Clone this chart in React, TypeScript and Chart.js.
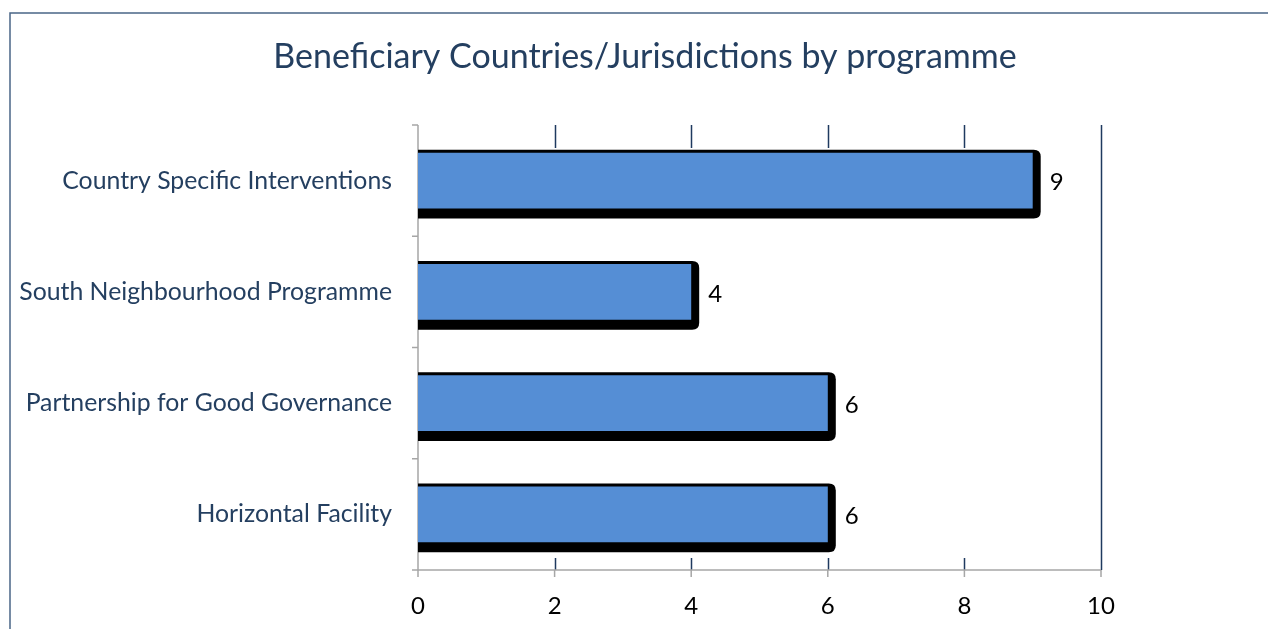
import React, { useEffect, useRef } from "react";
import { Chart, registerables } from "chart.js";

Chart.register(...registerables);

const titleText = "Beneficiary Countries/Jurisdictions by programme";
const categories = [
  "Country Specific Interventions",
  "South Neighbourhood Programme",
  "Partnership for Good Governance",
  "Horizontal Facility",
];
const values = [9, 4, 6, 6];
const xTicks = [0, 2, 4, 6, 8, 10];

const FONT = "Lato, 'Open Sans', sans-serif";
const NAVY = "#1f3a5f";
const TEXT_BLUE = "#243f60";
const AXIS_GRAY = "#a6a6a6";
const BAR_BLUE = "#558ed5";

const decorPlugin = {
  id: "decor",
  beforeDraw(chart: any) {
    const { ctx } = chart;
    ctx.save();
    ctx.fillStyle = "#ffffff";
    ctx.fillRect(0, 0, chart.width, chart.height);
    ctx.strokeStyle = "#4a6687";
    ctx.lineWidth = 1.5;
    ctx.strokeRect(10, 13, chart.width + 40, chart.height + 40);
    ctx.fillStyle = TEXT_BLUE;
    ctx.font = `34px ${FONT}`;
    ctx.textAlign = "center";
    ctx.textBaseline = "alphabetic";
    ctx.fillText(titleText, 645, 68);
    ctx.restore();
  },
  beforeDatasetsDraw(chart: any) {
    const { ctx, chartArea } = chart;
    const xs = chart.scales.x;
    const { top, bottom, left, right } = chartArea;
    ctx.save();
    ctx.strokeStyle = NAVY;
    ctx.lineWidth = 1.5;
    xTicks.forEach((v) => {
      if (v === 0) return;
      const px = Math.round(xs.getPixelForValue(v)) + 0.5;
      ctx.beginPath();
      if (v === xTicks[xTicks.length - 1]) {
        ctx.moveTo(px, top);
        ctx.lineTo(px, bottom);
      } else {
        ctx.moveTo(px, top);
        ctx.lineTo(px, top + 23);
        ctx.moveTo(px, bottom - 12);
        ctx.lineTo(px, bottom);
      }
      ctx.stroke();
    });
    ctx.strokeStyle = AXIS_GRAY;
    ctx.lineWidth = 1.5;
    ctx.beginPath();
    ctx.moveTo(left, top);
    ctx.lineTo(left, bottom + 7);
    ctx.moveTo(left - 6, bottom);
    ctx.lineTo(right, bottom);
    const n = categories.length;
    for (let i = 0; i <= n; i++) {
      const py = top + ((bottom - top) * i) / n;
      ctx.moveTo(left - 6, py);
      ctx.lineTo(left, py);
    }
    xTicks.forEach((v) => {
      const px = xs.getPixelForValue(v);
      ctx.moveTo(px, bottom);
      ctx.lineTo(px, bottom + 7);
    });
    ctx.stroke();
    const meta = chart.getDatasetMeta(0);
    ctx.fillStyle = "#000000";
    meta.data.forEach((el: any) => {
      const h = el.height;
      const x0 = el.base;
      const x1 = el.x + 8;
      const y0 = el.y - h / 2 - 3;
      const y1 = el.y + h / 2 + 10;
      const r = 7;
      ctx.beginPath();
      ctx.moveTo(x0, y0);
      ctx.lineTo(x1 - r, y0);
      ctx.quadraticCurveTo(x1, y0, x1, y0 + r);
      ctx.lineTo(x1, y1 - r);
      ctx.quadraticCurveTo(x1, y1, x1 - r, y1);
      ctx.lineTo(x0, y1);
      ctx.closePath();
      ctx.fill();
    });
    ctx.restore();
  },
  afterDatasetsDraw(chart: any) {
    const { ctx } = chart;
    const meta = chart.getDatasetMeta(0);
    ctx.save();
    ctx.fillStyle = "#000000";
    ctx.font = `24px ${FONT}`;
    ctx.textAlign = "left";
    ctx.textBaseline = "middle";
    meta.data.forEach((el: any, i: number) => {
      ctx.fillText(String(values[i]), el.x + 17, el.y + 2);
    });
    ctx.restore();
  },
};

export default function App() {
  const ref = useRef<HTMLCanvasElement | null>(null);
  useEffect(() => {
    if (!ref.current) return;
    const chart = new Chart(ref.current, {
      type: "bar",
      data: {
        labels: categories,
        datasets: [
          {
            data: values,
            backgroundColor: BAR_BLUE,
            borderWidth: 0,
            barPercentage: 0.5,
            categoryPercentage: 1,
          },
        ],
      },
      options: {
        indexAxis: "y",
        animation: false,
        responsive: false,
        layout: { padding: { left: 10, right: 167, top: 125, bottom: 0 } },
        plugins: {
          legend: { display: false },
          tooltip: { enabled: false },
          title: { display: false },
        },
        scales: {
          x: {
            type: "linear",
            min: 0,
            max: 10,
            grid: { display: false },
            border: { display: false },
            ticks: {
              stepSize: 2,
              color: "#000000",
              padding: 14,
              font: { family: FONT, size: 24 },
            },
            afterFit(scale: any) {
              scale.height = 59;
            },
          },
          y: {
            type: "category",
            grid: { display: false },
            border: { display: false },
            ticks: {
              color: TEXT_BLUE,
              padding: 18,
              font: { family: FONT, size: 24.8 },
            },
            afterFit(scale: any) {
              scale.width = 408;
            },
          },
        },
      },
      plugins: [decorPlugin],
    } as any);
    return () => chart.destroy();
  }, []);
  return (
    <div style={{ position: "fixed", left: 0, top: 0, width: 1268, height: 629 }}>
      <canvas ref={ref} width={1268} height={629} style={{ display: "block" }} />
    </div>
  );
}
